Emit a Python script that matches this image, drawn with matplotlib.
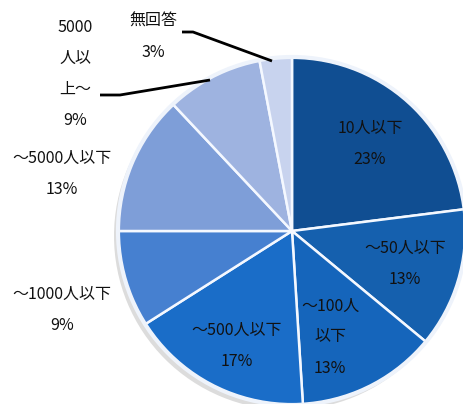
import matplotlib
matplotlib.use("Agg")
import matplotlib.pyplot as plt

plt.rcParams['font.family'] = ['Noto Sans CJK JP', 'DejaVu Sans']

categories = ["10人以下", "～50人以下", "～100人以下", "～500人以下",
              "～1000人以下", "～5000人以下", "5000人以上～", "無回答"]
values = [23, 13, 13, 17, 9, 13, 9, 3]
label_texts = ["10人以下\n23%", "～50人以下\n13%", "～100人\n以下\n13%", "～500人以下\n17%",
               "～1000人以下\n9%", "～5000人以下\n13%", "5000\n人以\n上～\n9%", "無回答\n3%"]
colors = ["#104E92", "#1560AE", "#1565BB", "#1A6DC8",
          "#4680D0", "#7E9ED8", "#9EB3E0", "#C8D3EE"]

W, H = 464, 404
fig = plt.figure(figsize=(W / 100, H / 100), dpi=100)
ax = fig.add_axes([0, 0, 1, 1])
ax.set_xlim(0, W)
ax.set_ylim(0, H)
ax.set_aspect('equal')
ax.axis('off')

cx, cy, r = 292, H - 231, 174

# faint shadow
ax.pie([1], colors=["#dcdcdc"], center=(cx - 4, cy - 5), radius=r,
       wedgeprops=dict(linewidth=0))
wedges, _ = ax.pie(values, colors=colors, startangle=90, counterclock=False,
                   center=(cx, cy), radius=r,
                   wedgeprops=dict(edgecolor="#f4f8ff", linewidth=1.8))
# outer glow ring
ax.pie([1], colors=["none"], center=(cx, cy), radius=r,
       wedgeprops=dict(edgecolor="#eef3fb", linewidth=3, fill=False))
ax.set_xlim(0, W)
ax.set_ylim(0, H)

# label positions (pixel coords from top)
pos = [(370, 144), (405, 264), (330, 337), (237, 346),
       (62, 310), (62, 174), (75, 74), (153, 37)]
for txt, (x, y) in zip(label_texts, pos):
    ax.text(x, H - y, txt, ha='center', va='center', fontsize=11.5,
            color='#111111', linespacing=2.08, multialignment='center')

# leader lines
ax.plot([182, 193, 272], [H - 32, H - 32, H - 61], color='black', lw=2,
        solid_capstyle='butt', clip_on=False)
ax.plot([100, 120, 210], [H - 95, H - 95, H - 80], color='black', lw=2,
        solid_capstyle='butt', clip_on=False)

fig.savefig("out.png", dpi=100)
